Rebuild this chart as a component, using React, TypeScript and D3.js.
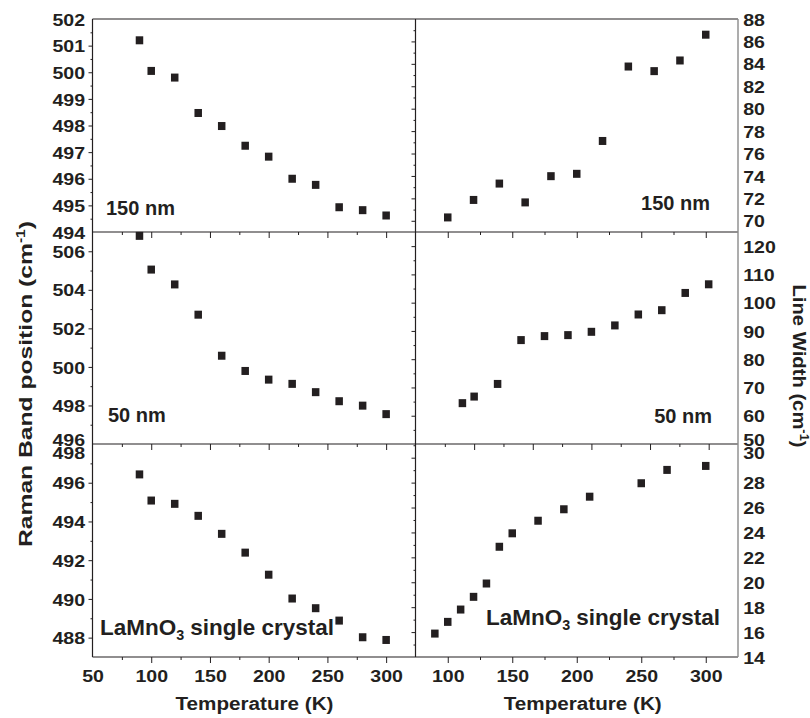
import { useEffect, useRef } from 'react';
import * as d3 from 'd3';

// Raman band position vs temperature (left column)
const tempsRaman = [90, 100, 120, 140, 160, 180, 200, 220, 240, 260, 280, 300];
const raman150 = [501.2, 500.05, 499.8, 498.47, 497.98, 497.24, 496.83, 496.0, 495.77, 494.93, 494.82, 494.62];
const raman50 = [506.8, 505.05, 504.28, 502.71, 500.58, 499.79, 499.34, 499.12, 498.69, 498.22, 497.99, 497.55];
const ramanCrystal = [496.43, 495.08, 494.91, 494.29, 493.36, 492.39, 491.25, 490.02, 489.52, 488.88, 488.02, 487.88];

// Line width vs temperature (right column)
const temps150W = [100, 120, 140, 160, 180, 200, 220, 240, 260, 280, 300];
const width150 = [70.3, 71.86, 73.32, 71.64, 73.98, 74.19, 77.12, 83.76, 83.35, 84.3, 86.6];
const temps50W = [90, 100, 120, 140, 160, 180, 200, 220, 240, 260, 280, 300];
const width50 = [64.45, 66.78, 71.25, 86.76, 88.17, 88.52, 89.69, 91.95, 95.82, 97.34, 103.44, 106.5];
const tempsCrystalW = [90, 100, 110, 120, 130, 140, 150, 170, 190, 210, 250, 270, 300];
const widthCrystal = [15.88, 16.82, 17.81, 18.83, 19.9, 22.85, 23.93, 24.94, 25.86, 26.87, 27.95, 29.02, 29.34];

// tick labels
const yTicks150 = [494, 495, 496, 497, 498, 499, 500, 501, 502];
const yTicks50 = [496, 498, 500, 502, 504, 506];
const yTicksCrystal = [488, 490, 492, 494, 496, 498];
const wTicks150 = [70, 72, 74, 76, 78, 80, 82, 84, 86, 88];
const wTicks50 = [50, 60, 70, 80, 90, 100, 110, 120];
const wTicksCrystal = [14, 16, 18, 20, 22, 24, 26, 28, 30];
const xTicksLeft = [50, 100, 150, 200, 250, 300];
const xTicksRight = [100, 150, 200, 250, 300];

const FONT = '"Liberation Sans", Arial, Helvetica, sans-serif';
const INK = '#231f20';

export default function App() {
  const svgRef = useRef<SVGSVGElement>(null);

  useEffect(() => {
    if (!svgRef.current) return;
    const svg = d3.select(svgRef.current);
    svg.selectAll('*').remove();

    const colX = [[92.5, 415.5], [415.5, 738]];
    const rows = [[19, 232], [232, 444], [444, 657]];

    const panels = [
      { col: 0, row: 0, xd: [50, 325], yd: [494, 502], t: tempsRaman, v: raman150, yt: yTicks150, minor: 0.5, label: '150 nm', lx: 106, ly: 215, nudge: {} as Record<number, number> },
      { col: 1, row: 0, xd: [75, 325], yd: [69, 88], t: temps150W, v: width150, yt: wTicks150, minor: 1, label: '150 nm', lx: 710, ly: 210, nudge: {} },
      { col: 0, row: 1, xd: [50, 325], yd: [496, 507], t: tempsRaman, v: raman50, yt: yTicks50, minor: 1, label: '50 nm', lx: 108, ly: 422, nudge: { 496: -5 } },
      { col: 1, row: 1, xd: [50, 325], yd: [50, 125], t: temps50W, v: width50, yt: wTicks50, minor: 5, label: '50 nm', lx: 712, ly: 423, nudge: { 50: -5 } },
      { col: 0, row: 2, xd: [50, 325], yd: [487, 498], t: tempsRaman, v: ramanCrystal, yt: yTicksCrystal, minor: 1, label: 'crystal', lx: 100, ly: 635, nudge: { 498: 8 } },
      { col: 1, row: 2, xd: [75, 325], yd: [14, 31.1], t: tempsCrystalW, v: widthCrystal, yt: wTicksCrystal, minor: 1, label: 'crystal', lx: 486, ly: 625, nudge: { 30: -5 } },
    ];

    panels.forEach(p => {
      const [x0, x1] = colX[p.col];
      const [y0, y1] = rows[p.row];
      const x = d3.scaleLinear().domain(p.xd).range([x0, x1]);
      const y = d3.scaleLinear().domain(p.yd).range([y1, y0]);
      const g = svg.append('g');

      const inY = (d: number) => y(d) > y0 + 0.6 && y(d) < y1 - 0.6;
      const inX = (d: number) => x(d) > x0 + 0.6 && x(d) < x1 - 0.6;
      const yMinor = d3.range(p.yd[0], p.yd[1] + 1e-6, p.minor).filter(d => !p.yt.includes(d));
      const xMajor = d3.range(50, 326, 50);
      const xMinor = d3.range(75, 326, 50);

      const tickAxis = (sel: any, axis: any) => {
        sel.call(axis);
        sel.select('.domain').remove();
        sel.selectAll('line').attr('stroke', INK).attr('stroke-width', 1);
      };

      // y ticks on the left edge of every panel
      g.append('g').attr('transform', `translate(${x0},0)`)
        .call((s: any) => tickAxis(s, d3.axisLeft(y).tickValues(p.yt.filter(inY)).tickSize(4).tickFormat(() => '')));
      g.append('g').attr('transform', `translate(${x0},0)`)
        .call((s: any) => tickAxis(s, d3.axisLeft(y).tickValues(yMinor.filter(inY)).tickSize(2).tickFormat(() => '')));

      // x ticks at the bottom of every panel
      g.append('g').attr('transform', `translate(0,${y1})`)
        .call((s: any) => tickAxis(s, d3.axisBottom(x).tickValues(xMajor.filter(inX)).tickSize(6).tickFormat(() => '')));
      g.append('g').attr('transform', `translate(0,${y1})`)
        .call((s: any) => tickAxis(s, d3.axisBottom(x).tickValues(xMinor.filter(inX)).tickSize(3).tickFormat(() => '')));

      // y tick labels
      const labAxis = p.col === 0
        ? d3.axisLeft(y).tickValues(p.yt).tickSize(0).tickPadding(6.5).tickFormat(d3.format('d'))
        : d3.axisRight(y).tickValues(p.yt).tickSize(0).tickPadding(4.5).tickFormat(d3.format('d'));
      const lab = g.append('g').attr('transform', `translate(${p.col === 0 ? x0 : 738},0)`).call(labAxis);
      lab.select('.domain').remove();
      lab.attr('font-family', FONT).attr('font-size', 17).attr('font-weight', 'bold');
      lab.selectAll('text')
        .attr('fill', INK)
        .attr('y', (d: any) => (p.nudge as Record<number, number>)[d] || 0)
        .attr('dy', '0.36em')
        .attr('transform', 'scale(1.15,1)');

      // x tick labels on the bottom row
      if (p.row === 2) {
        const xl = g.append('g').attr('transform', `translate(0,${y1})`)
          .call(d3.axisBottom(x).tickValues(p.col === 0 ? xTicksLeft : xTicksRight).tickSize(0).tickPadding(12.5).tickFormat(d3.format('d')));
        xl.select('.domain').remove();
        xl.attr('font-family', FONT).attr('font-size', 17).attr('font-weight', 'bold');
        xl.selectAll('text').attr('fill', INK).attr('transform', 'scale(1.15,1)');

        g.append('text')
          .attr('x', (x0 + x1) / 2 + (p.col === 0 ? 0.5 : 6))
          .attr('y', 710)
          .attr('text-anchor', 'middle')
          .attr('font-family', FONT).attr('font-size', 18).attr('font-weight', 'bold')
          .attr('fill', INK)
          .attr('textLength', 158).attr('lengthAdjust', 'spacingAndGlyphs')
          .text('Temperature (K)');
      }

      // markers
      g.selectAll('rect.pt')
        .data(d3.zip(p.t, p.v))
        .join('rect')
        .attr('class', 'pt')
        .attr('x', d => x(d[0]) - 3.75)
        .attr('y', d => y(d[1]) - 4)
        .attr('width', 7.5)
        .attr('height', 8)
        .attr('fill', INK);

      // panel annotation
      const ann = g.append('text')
        .attr('x', p.lx).attr('y', p.ly)
        .attr('font-family', FONT).attr('font-weight', 'bold')
        .attr('fill', INK);
      if (p.label === 'crystal') {
        ann.attr('font-size', 22).attr('textLength', 234).attr('lengthAdjust', 'spacingAndGlyphs');
        ann.append('tspan').text('LaMnO');
        ann.append('tspan').attr('font-size', 14).attr('dy', 5).text('3');
        ann.append('tspan').attr('dy', -5).text(' single crystal');
      } else {
        ann.attr('font-size', 20)
          .attr('text-anchor', p.col === 0 ? 'start' : 'end')
          .text(p.label);
      }
    });

    // frame and dividers
    const frame = svg.append('g').attr('stroke', INK).attr('stroke-width', 1.2);
    frame.append('line').attr('x1', 92.5).attr('x2', 92.5).attr('y1', 19).attr('y2', 657);
    frame.append('line').attr('x1', 415.5).attr('x2', 415.5).attr('y1', 19).attr('y2', 657);
    [19, 232, 444, 657].forEach(yy => {
      frame.append('line').attr('x1', 92.5).attr('x2', 738).attr('y1', yy).attr('y2', yy);
    });
    svg.append('line').attr('x1', 738).attr('x2', 738).attr('y1', 19).attr('y2', 657)
      .attr('stroke', '#8a8a8a').attr('stroke-width', 1.4);

    // axis titles
    const lt = svg.append('text')
      .attr('transform', 'translate(32,384) rotate(-90)')
      .attr('text-anchor', 'middle')
      .attr('font-family', FONT).attr('font-size', 19).attr('font-weight', 'bold')
      .attr('fill', INK)
      .attr('textLength', 326).attr('lengthAdjust', 'spacingAndGlyphs');
    lt.append('tspan').text('Raman Band position (cm');
    lt.append('tspan').attr('font-size', 12).attr('dy', -7).text('-1');
    lt.append('tspan').attr('dy', 7).text(')');

    const rt = svg.append('text')
      .attr('transform', 'translate(793,366) rotate(90)')
      .attr('text-anchor', 'middle')
      .attr('font-family', FONT).attr('font-size', 19).attr('font-weight', 'bold')
      .attr('fill', INK)
      .attr('textLength', 163).attr('lengthAdjust', 'spacingAndGlyphs');
    rt.append('tspan').text('Line Width (cm');
    rt.append('tspan').attr('font-size', 12).attr('dy', -7).text('-1');
    rt.append('tspan').attr('dy', 7).text(')');
  }, []);

  return (
    <svg
      ref={svgRef}
      width={810}
      height={718}
      style={{ position: 'absolute', left: 0, top: 0, background: '#fff' }}
    />
  );
}
